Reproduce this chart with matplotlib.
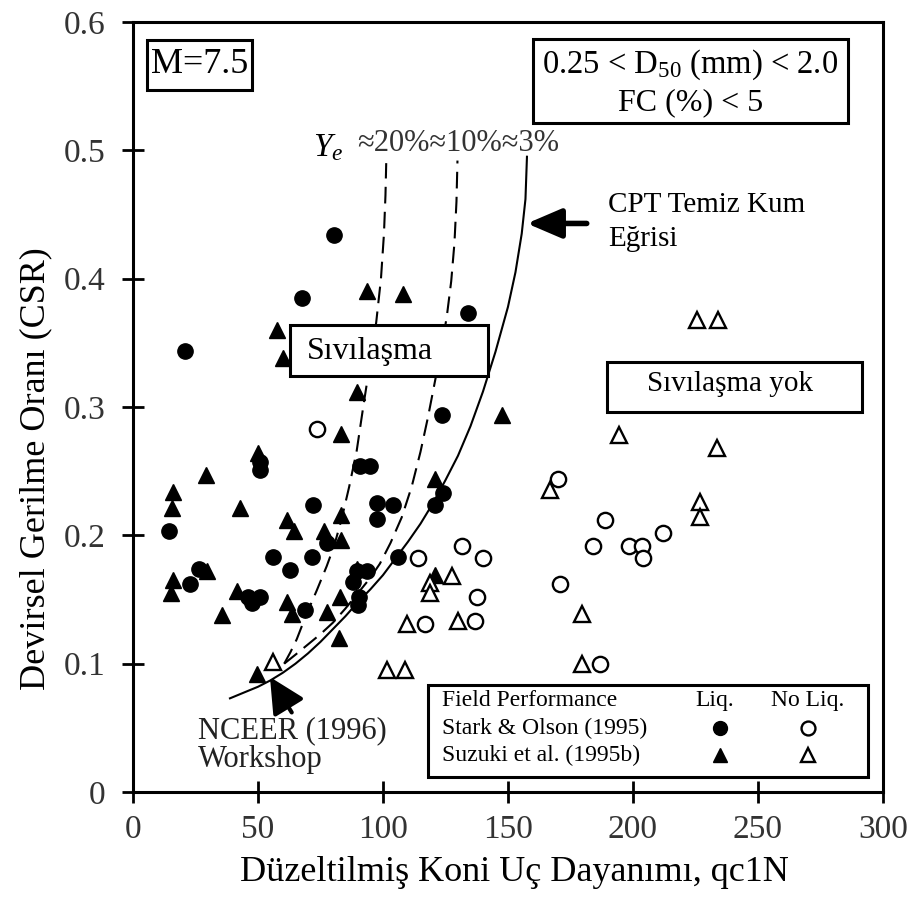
import matplotlib
matplotlib.use('Agg')
import matplotlib.pyplot as plt
from matplotlib.patches import Rectangle

plt.rcParams['font.family'] = ['Liberation Serif', 'DejaVu Serif']
plt.rcParams['mathtext.fontset'] = 'custom'
plt.rcParams['mathtext.rm'] = 'Liberation Serif'
plt.rcParams['mathtext.it'] = 'Liberation Serif:italic'

# Stark & Olson (1995) - liquefied (filled circles)
so_liq_x = [20.8, 80.5, 67.5, 134.1, 123.5, 50.8, 50.8, 14.5, 72.1, 77.5,
            56.1, 71.5, 62.8, 26.5, 22.8, 46.1, 50.8, 47.5, 68.8, 89.5,
            93.5, 88.1, 90.5, 90.1, 90.8, 95.0, 97.5, 97.5, 104.1, 106.1,
            120.8, 124.1]
so_liq_y = [0.344, 0.434, 0.385, 0.373, 0.294, 0.257, 0.251, 0.203, 0.224, 0.194,
            0.183, 0.183, 0.173, 0.174, 0.162, 0.152, 0.152, 0.147, 0.142, 0.172,
            0.172, 0.164, 0.152, 0.146, 0.254, 0.254, 0.225, 0.213, 0.224, 0.183,
            0.224, 0.233]

# Suzuki et al. (1995b) - liquefied (filled triangles)
su_liq_x = [50.1, 29.2, 16.1, 15.5, 42.8, 61.5, 64.5, 76.5, 83.2, 83.2,
            29.5, 15.9, 15.1, 41.7, 35.5, 61.5, 63.5, 77.5, 82.8, 82.4,
            89.5, 49.5, 93.5, 57.5, 60.1, 89.5, 83.1, 108.1, 147.5, 120.8,
            120.8]
su_liq_y = [0.264, 0.247, 0.234, 0.221, 0.221, 0.212, 0.203, 0.203, 0.216, 0.196,
            0.172, 0.165, 0.155, 0.157, 0.138, 0.148, 0.139, 0.140, 0.152, 0.120,
            0.174, 0.092, 0.390, 0.360, 0.338, 0.312, 0.279, 0.388, 0.294, 0.244,
            0.169]

# Stark & Olson (1995) - no liquefaction (open circles)
so_noliq_x = [73.5, 114.1, 131.5, 140.1, 137.5, 116.8, 136.8, 170.1, 189.0, 184.1,
              170.8, 186.8, 212.1, 198.5, 203.5, 204.1]
so_noliq_y = [0.283, 0.182, 0.192, 0.182, 0.152, 0.131, 0.133, 0.244, 0.212, 0.192,
              0.162, 0.100, 0.202, 0.192, 0.192, 0.182]

# Suzuki et al. (1995b) - no liquefaction (open triangles)
su_noliq_x = [56.1, 101.5, 108.8, 118.8, 118.8, 127.5, 109.5, 130.1, 166.8, 179.5,
              179.5, 225.5, 234.1, 194.5, 233.5, 226.8, 226.8]
su_noliq_y = [0.101, 0.095, 0.095, 0.163, 0.155, 0.168, 0.131, 0.133, 0.235, 0.139,
              0.100, 0.368, 0.368, 0.278, 0.268, 0.226, 0.214]

# CPT clean sand curve (Ye ~ 3%)
cpt_x = [38.8, 45, 50, 55, 60, 65, 70, 75, 80, 85, 90, 95, 100, 105, 110, 115,
         120, 125, 130, 135, 140, 145, 150, 153, 155.5, 157, 157.6]
cpt_y = [0.073, 0.078, 0.082, 0.087, 0.093, 0.100, 0.108, 0.117, 0.127, 0.137,
         0.148, 0.158, 0.169, 0.182, 0.195, 0.209, 0.225, 0.243, 0.262, 0.285,
         0.312, 0.343, 0.378, 0.405, 0.435, 0.462, 0.495]

# Ye ~ 10% curve
ye10_x = [60.5, 65, 70, 75, 80, 85, 90, 95, 98.8, 103, 107.5, 111.5, 115,
          118, 120.8, 123.3, 125.5, 127.3, 128.6, 129.4, 129.8]
ye10_y = [0.100, 0.107, 0.115, 0.123, 0.132, 0.143, 0.155, 0.167, 0.178, 0.194,
          0.214, 0.238, 0.265, 0.292, 0.320, 0.345, 0.370, 0.398, 0.428, 0.460, 0.492]

# Ye ~ 20% curve
ye20_x = [60.5, 63, 65.5, 69.5, 73.5, 77.5, 80.5, 83.5, 86.5, 89.5, 92.1,
          94.8, 97.3, 99.2, 100.4, 101.0, 101.3]
ye20_y = [0.100, 0.109, 0.119, 0.139, 0.157, 0.176, 0.192, 0.213, 0.238, 0.266,
          0.300, 0.334, 0.366, 0.400, 0.435, 0.465, 0.490]

xticks = [0, 50, 100, 150, 200, 250, 300]
xtick_labels = ['0', '50', '100', '150', '200', '250', '300']
yticks = [0, 0.1, 0.2, 0.3, 0.4, 0.5, 0.6]
ytick_labels = ['0', '0.1', '0.2', '0.3', '0.4', '0.5', '0.6']

fig = plt.figure(figsize=(9.07, 9.15), dpi=100)
ax = fig.add_axes([0.1466, 0.1344, 0.8269, 0.8416])
ax.set_xlim(0, 300)
ax.set_ylim(0, 0.6)

ms = 11
ax.plot(so_liq_x, so_liq_y, 'o', color='black', ms=ms, zorder=3)
ax.plot(su_liq_x, su_liq_y, '^', color='black', ms=ms, zorder=3)
ax.plot(so_noliq_x, so_noliq_y, 'o', mfc='white', mec='black', mew=1.7, ms=ms, zorder=3)
ax.plot(su_noliq_x, su_noliq_y, '^', mfc='white', mec='black', mew=1.7, ms=ms, zorder=3)

ax.plot(cpt_x, cpt_y, '-', color='black', lw=1.5, zorder=2)
ax.plot(ye10_x, ye10_y, color='black', lw=1.5, dashes=(8, 4), zorder=2)
ax.plot(ye20_x, ye20_y, color='black', lw=1.5, dashes=(8, 4), zorder=2)

# axes styling
for s in ax.spines.values():
    s.set_linewidth(2.2)
ax.set_xticks(xticks)
ax.set_xticklabels(xtick_labels)
ax.set_yticks(yticks)
ax.set_yticklabels(ytick_labels)
ax.tick_params(axis='both', direction='inout', length=16, width=2, labelsize=24, colors='black')
ax.tick_params(axis='x', pad=8)
ax.tick_params(axis='y', pad=12)
for t in ax.get_xticklabels() + ax.get_yticklabels():
    t.set_color('#333333')

ax.set_xlabel('Düzeltilmiş Koni Uç Dayanımı, qc1N', fontsize=26)
ax.xaxis.set_label_coords(0.509, -0.083)
ax.set_ylabel('Devirsel Gerilme Oranı (CSR)', fontsize=26)
ax.yaxis.set_label_coords(-0.108, 0.42)

def box(x0, x1, y0, y1, lw=2.2):
    ax.add_patch(Rectangle((x0, y0), x1 - x0, y1 - y0, fill=True, fc='white',
                           ec='black', lw=lw, zorder=4))

# M=7.5 box
box(5.5, 47.5, 0.547, 0.586)
ax.text(26.5, 0.567, 'M=7.5', fontsize=26, ha='center', va='center', zorder=5)

# grain size box
box(160, 286, 0.521, 0.587)
ax.text(223, 0.567, r'0.25 < D$\mathregular{_{50}}$ (mm) < 2.0', fontsize=23.5,
        ha='center', va='center', zorder=5)
ax.text(223, 0.537, 'FC (%) < 5', fontsize=23, ha='center', va='center', zorder=5)

# Sivilasma boxes
box(63, 142.2, 0.324, 0.364)
ax.text(69.5, 0.343, 'Sıvılaşma', fontsize=23, ha='left', va='center', zorder=5)
box(189.5, 291.5, 0.296, 0.335)
ax.text(238.8, 0.318, 'Sıvılaşma yok', fontsize=21, ha='center', va='center', zorder=5)

# Ye label
ax.text(78.2, 0.502, r'$Y_e$', fontsize=24, ha='center', va='center')
ax.text(89.6, 0.505, '≈20%≈10%≈3%', fontsize=22, ha='left', va='center', color='#333333')

# CPT curve label and arrow
ax.text(190, 0.457, 'CPT Temiz Kum', fontsize=21, ha='left', va='center')
ax.text(190, 0.431, 'Eğrisi', fontsize=21, ha='left', va='center')
ax.annotate('', xy=(157.6, 0.443), xytext=(181.5, 0.443),
            arrowprops=dict(arrowstyle='-|>,head_length=0.7,head_width=0.3',
                            lw=4, color='black', mutation_scale=30,
                            shrinkA=0, shrinkB=0))

# NCEER label and arrow
ax.text(26, 0.048, 'NCEER (1996)', fontsize=22, ha='left', va='center', color='#222222')
ax.text(26, 0.025, 'Workshop', fontsize=22, ha='left', va='center', color='#222222')
ax.annotate('', xy=(54.8, 0.0896), xytext=(63.5, 0.062),
            arrowprops=dict(arrowstyle='-|>,head_length=0.8,head_width=0.4',
                            lw=3, color='black', mutation_scale=27,
                            shrinkA=0, shrinkB=0))

# legend box
box(118.1, 294.1, 0.0119, 0.0834)
fs = 17
ax.text(123.5, 0.0717, 'Field Performance', fontsize=fs, ha='left', va='center', zorder=5)
ax.text(123.5, 0.0499, 'Stark & Olson (1995)', fontsize=fs, ha='left', va='center', zorder=5)
ax.text(123.5, 0.0288, 'Suzuki et al. (1995b)', fontsize=fs, ha='left', va='center', zorder=5)
ax.text(232.8, 0.0717, 'Liq.', fontsize=fs, ha='center', va='center', zorder=5)
ax.text(270.0, 0.0717, 'No Liq.', fontsize=fs, ha='center', va='center', zorder=5)
ax.plot([234.8], [0.0499], 'o', color='black', ms=10, zorder=6)
ax.plot([234.8], [0.0288], '^', color='black', ms=10, zorder=6)
ax.plot([270.0], [0.0499], 'o', mfc='white', mec='black', mew=1.7, ms=10, zorder=6)
ax.plot([270.0], [0.0288], '^', mfc='white', mec='black', mew=1.7, ms=10, zorder=6)

fig.savefig('out.png', dpi=100)
